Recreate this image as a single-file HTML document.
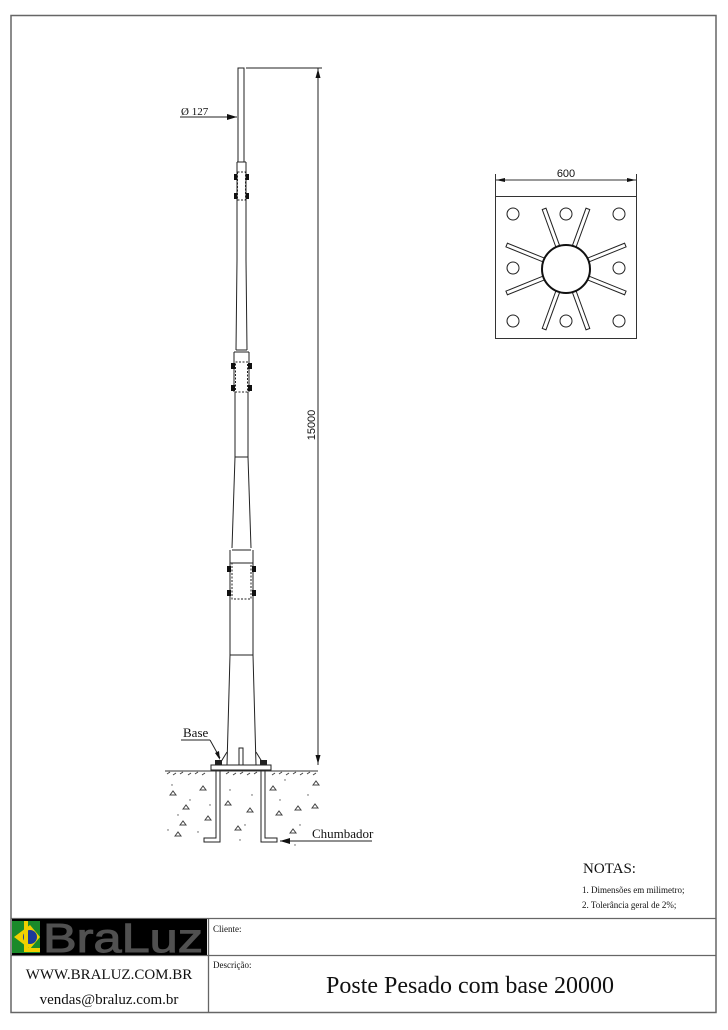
<!DOCTYPE html>
<html><head><meta charset="utf-8"><style>
html,body{margin:0;padding:0;background:#fff;}
svg{display:block;}
text{font-family:"Liberation Serif",serif;fill:#111;}
</style></head><body>
<svg width="728" height="1030" viewBox="0 0 728 1030" xmlns="http://www.w3.org/2000/svg">
<rect x="0" y="0" width="728" height="1030" fill="#fff"/>
<rect x="11" y="15.5" width="705" height="997" fill="none" stroke="#666" stroke-width="1.5"/>
<line x1="11" y1="918.5" x2="716" y2="918.5" stroke="#666" stroke-width="1.3"/>
<line x1="11" y1="955.5" x2="716" y2="955.5" stroke="#666" stroke-width="1.3"/>
<line x1="208.5" y1="918" x2="208.5" y2="1012" stroke="#666" stroke-width="1.3"/>

<rect x="12" y="919" width="195" height="36" fill="#000"/>
<rect x="12" y="921" width="28" height="32" fill="#1a8a2a"/>
<polygon points="14,937 30,925 40,937 30,949" fill="#f0d000"/>
<circle cx="30" cy="937" r="7" fill="#1a3a9a"/>
<rect x="24" y="921" width="4" height="30" fill="#f0d000"/>
<rect x="24" y="948" width="16" height="4" fill="#f0d000"/>
<text x="43" y="952" style="font-family:'Liberation Sans',sans-serif;font-size:41px;fill:#505050;stroke:#505050;stroke-width:1;" textLength="160" lengthAdjust="spacingAndGlyphs">BraLuz</text>

<text x="213" y="932" font-size="9">Cliente:</text>
<text x="213" y="968" font-size="9">Descrição:</text>
<text x="109" y="979" font-size="15" text-anchor="middle">WWW.BRALUZ.COM.BR</text>
<text x="109" y="1004" font-size="15" text-anchor="middle">vendas@braluz.com.br</text>
<text x="470" y="993" font-size="24" text-anchor="middle">Poste Pesado com base 20000</text>

<text x="583" y="873" font-size="15">NOTAS:</text>
<text x="582" y="893" font-size="9">1. Dimensões em milimetro;</text>
<text x="582" y="908" font-size="9">2. Tolerância geral de 2%;</text>

<g fill="none" stroke="#222" stroke-width="1">
<rect x="238" y="68" width="6" height="94"/>
<path d="M237,162 L237,260 L236,350 M246,162 L246,260 L247,350"/>
<line x1="237" y1="162" x2="246" y2="162"/>
<rect x="237.5" y="172" width="8" height="28" stroke-dasharray="2,1.5"/>
<line x1="236" y1="350" x2="247" y2="350"/>
<path d="M234,352 L234,392 M249,352 L249,392"/>
<line x1="234" y1="352" x2="249" y2="352"/>
<rect x="235.5" y="362" width="12" height="30" stroke-dasharray="2,1.5"/>
<path d="M235,392 L235,457 L232,548 M248,392 L248,457 L251,548"/>
<line x1="235" y1="457" x2="248" y2="457"/>
<line x1="232" y1="550" x2="251" y2="550"/>
<path d="M230,550 L230,655 L227,765 M253,550 L253,655 L256,765"/>
<line x1="230" y1="563" x2="253" y2="563"/>
<rect x="232" y="563" width="19" height="36" stroke-dasharray="2,1.5"/>
<line x1="230" y1="655" x2="253" y2="655"/>
</g>
<g fill="#111">
<rect x="234" y="174" width="3" height="6"/><rect x="246" y="174" width="3" height="6"/>
<rect x="234" y="193" width="3" height="6"/><rect x="246" y="193" width="3" height="6"/>
<rect x="231" y="363" width="4" height="6"/><rect x="248" y="363" width="4" height="6"/>
<rect x="231" y="385" width="4" height="6"/><rect x="248" y="385" width="4" height="6"/>
<rect x="227" y="566" width="4" height="6"/><rect x="252" y="566" width="4" height="6"/>
<rect x="227" y="590" width="4" height="6"/><rect x="252" y="590" width="4" height="6"/>
</g>

<g fill="none" stroke="#222" stroke-width="1">
<rect x="211" y="765" width="60" height="5"/>
<path d="M227,752 L219,765 M256,752 L264,765"/>
<rect x="239" y="748" width="4" height="17"/>
<path d="M216,770 L216,838 L204,838 L204,842 L220,842 L220,770"/>
<path d="M261,770 L261,842 L277,842 L277,838 L265,838 L265,770"/>
</g>
<g fill="#222">
<rect x="215" y="760" width="7" height="5"/><rect x="260" y="760" width="7" height="5"/>
</g>
<line x1="165" y1="771" x2="318" y2="771" stroke="#333" stroke-width="1"/>
<g stroke="#444" stroke-width="1" fill="none">
<path d="M167,774 l3,-2 M173,775 l3,-2 M180,774 l3,-2 M188,775 l3,-2 M195,774 l3,-2 M202,775 l3,-2 M226,774 l3,-2 M233,775 l3,-2 M240,774 l3,-2 M247,775 l3,-2 M254,774 l3,-2 M272,775 l3,-2 M279,774 l3,-2 M286,775 l3,-2 M293,774 l3,-2 M300,775 l3,-2 M307,774 l3,-2 M313,775 l3,-2"/>
<path d="M170,795 l3,-4 l3,4z M200,790 l3,-4 l3,4z M180,825 l3,-4 l3,4z M225,805 l3,-4 l3,4z M235,830 l3,-4 l3,4z M270,790 l3,-4 l3,4z M276,815 l3,-4 l3,4z M295,810 l3,-4 l3,4z M290,833 l3,-4 l3,4z M175,836 l3,-4 l3,4z M205,820 l3,-4 l3,4z M247,812 l3,-4 l3,4z M313,785 l3,-4 l3,4z M312,808 l3,-4 l3,4z M183,809 l3,-4 l3,4z"/>
</g>
<g fill="#555">
<circle cx="172" cy="785" r=".7"/><circle cx="190" cy="800" r=".7"/><circle cx="178" cy="815" r=".7"/><circle cx="198" cy="832" r=".7"/><circle cx="230" cy="790" r=".7"/><circle cx="245" cy="825" r=".7"/><circle cx="252" cy="795" r=".7"/><circle cx="280" cy="800" r=".7"/><circle cx="300" cy="825" r=".7"/><circle cx="308" cy="795" r=".7"/><circle cx="168" cy="830" r=".7"/><circle cx="285" cy="780" r=".7"/><circle cx="210" cy="805" r=".7"/><circle cx="240" cy="840" r=".7"/><circle cx="295" cy="845" r=".7"/>
</g>

<text x="183" y="737" font-size="13">Base</text>
<line x1="181" y1="740" x2="210" y2="740" stroke="#222"/>
<line x1="210" y1="740" x2="220" y2="758" stroke="#222"/>
<polygon points="220,760 215,753 219,751" fill="#111"/>
<text x="312" y="838" font-size="13">Chumbador</text>
<line x1="280" y1="841" x2="372" y2="841" stroke="#222"/>
<polygon points="280,841 290,838 290,844" fill="#111"/>
<text x="181" y="115" font-size="11">Ø 127</text>
<line x1="180" y1="117" x2="237" y2="117" stroke="#222"/>
<polygon points="237,117 227,114 227,120" fill="#111"/>

<line x1="246" y1="68" x2="322" y2="68" stroke="#222"/>
<line x1="318" y1="68" x2="318" y2="765" stroke="#222"/>
<polygon points="318,69 315.5,78 320.5,78" fill="#111"/>
<polygon points="318,764 315.5,755 320.5,755" fill="#111"/>
<text transform="translate(315,425) rotate(-90)" text-anchor="middle" font-size="11" style="font-family:'Liberation Sans',sans-serif;">15000</text>

<rect x="495.5" y="196.5" width="141" height="142" fill="none" stroke="#333"/>
<line x1="495.5" y1="174" x2="495.5" y2="196" stroke="#333"/>
<line x1="636.5" y1="174" x2="636.5" y2="196" stroke="#333"/>
<line x1="496" y1="180" x2="636" y2="180" stroke="#333"/>
<polygon points="496,180 505,178 505,182" fill="#111"/>
<polygon points="636,180 627,178 627,182" fill="#111"/>
<text x="566" y="177" font-size="11" text-anchor="middle" style="font-family:'Liberation Sans',sans-serif;">600</text>
<g fill="none" stroke="#222" stroke-width="1">
<circle cx="513" cy="214" r="6"/><circle cx="566" cy="214" r="6"/><circle cx="619" cy="214" r="6"/>
<circle cx="513" cy="268" r="6"/><circle cx="619" cy="268" r="6"/>
<circle cx="513" cy="321" r="6"/><circle cx="566" cy="321" r="6"/><circle cx="619" cy="321" r="6"/>
<g transform="translate(566,269)">
<rect x="24" y="-2" width="40" height="4" transform="rotate(-70)"/>
<rect x="24" y="-2" width="40" height="4" transform="rotate(-110)"/>
<rect x="24" y="-2" width="40" height="4" transform="rotate(-158)"/>
<rect x="24" y="-2" width="40" height="4" transform="rotate(158)"/>
<rect x="24" y="-2" width="40" height="4" transform="rotate(110)"/>
<rect x="24" y="-2" width="40" height="4" transform="rotate(70)"/>
<rect x="24" y="-2" width="40" height="4" transform="rotate(22)"/>
<rect x="24" y="-2" width="40" height="4" transform="rotate(-22)"/>
<circle cx="0" cy="0" r="24" fill="#fff" stroke="#111" stroke-width="2"/>
</g>
</g>
</svg>
</body></html>
